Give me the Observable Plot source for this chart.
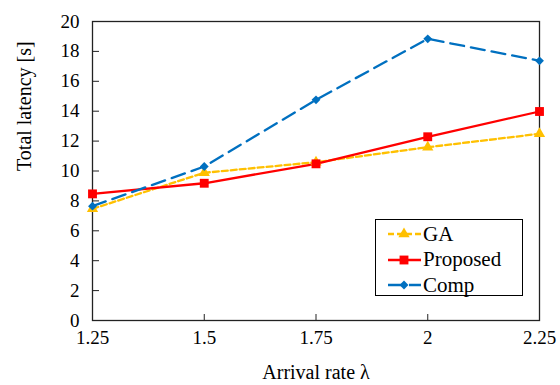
<!DOCTYPE html>
<html><head>
<script src="https://cdn.jsdelivr.net/npm/d3@7"></script>
<script src="https://cdn.jsdelivr.net/npm/@observablehq/plot@0.6"></script>
</head>
<body style="margin:0;padding:0;background:#fff">
<div id="wrap" style="position:relative;width:560px;height:385px;font-family:'Liberation Serif'"><div id="chart"></div><div id="legend" style="position:absolute;left:375px;top:219px;width:148px;height:77px;border:1px solid #000;background:#fff;box-sizing:border-box"></div></div>
<script>
const xs = [1.25, 1.5, 1.75, 2, 2.25];
const xTickLabels = ["1.25", "1.5", "1.75", "2", "2.25"];
const yTicks = [0, 2, 4, 6, 8, 10, 12, 14, 16, 18, 20];
const seriesNames = ["GA", "Proposed", "Comp"];
const gaValues = [7.47, 9.88, 10.59, 11.59, 12.49];
const proposedValues = [8.47, 9.18, 10.48, 12.29, 13.98];
const compValues = [7.65, 10.3, 14.76, 18.84, 17.37];
const xLabel = "Arrival rate \u03bb";
const yLabel = "Total latency [s]";

const colors = {GA: "#FFC000", Proposed: "#FF0000", Comp: "#0070C0"};
const dashes = {GA: "6,3", Proposed: null, Comp: "14,7"};
const symbols = {GA: "triangle", Proposed: "square", Comp: "diamond2"};
const radii = {GA: 4.2, Proposed: 5.0, Comp: 4.0};

const valuesBy = {GA: gaValues, Proposed: proposedValues, Comp: compValues};
const rows = seriesNames.map(s => xs.map((x, i) => ({series: s, x, y: valuesBy[s][i]})));

const marks = [];
for (const s of seriesNames) {
  const d = rows[seriesNames.indexOf(s)];
  marks.push(Plot.line(d, {x: "x", y: "y", stroke: colors[s], strokeWidth: 2.3, strokeDasharray: dashes[s]}));
}
for (const s of seriesNames) {
  const d = rows[seriesNames.indexOf(s)];
  marks.push(Plot.dot(d, {x: "x", y: "y", symbol: () => symbols[s], r: radii[s], fill: colors[s], stroke: "none"}));
}

const chart = Plot.plot({
  width: 560,
  height: 385,
  marginLeft: 92,
  marginRight: 21,
  marginTop: 21,
  marginBottom: 65,
  style: {fontFamily: "Liberation Serif", fontSize: "19px", color: "#000", background: "#fff"},
  x: {domain: [1.25, 2.25], ticks: xs},
  y: {domain: [0, 20], ticks: yTicks},
  symbol: {type: "identity"},
  marks: [
    Plot.frame({stroke: "#222", strokeWidth: 1.3}),
    Plot.axisX({ticks: xs, tickFormat: d => xTickLabels[xs.indexOf(d)], tickSize: -6, tickPadding: 16, stroke: "#222", label: null, fontSize: 19}),
    Plot.axisY({ticks: yTicks, tickSize: -7, tickPadding: 20, stroke: "#222", label: null, fontSize: 19}),
    Plot.text([xLabel], {frameAnchor: "bottom", dy: 58, text: d => d, fontSize: 20}),
    Plot.text([yLabel], {frameAnchor: "left", dx: -68, rotate: -90, text: d => d, fontSize: 20}),
    ...marks
  ]
});
document.getElementById("chart").appendChild(chart);

// Legend
const legend = document.getElementById("legend");
const sym = {triangle: d3.symbolTriangle, square: d3.symbolSquare, diamond2: d3.symbolDiamond2};
seriesNames.forEach((s, i) => {
  const row = document.createElement("div");
  row.style.cssText = "position:absolute;left:0;top:" + (1 + i * 25.5) + "px;height:26px;display:flex;align-items:center;font-size:21px;color:#000;font-family:'Liberation Serif'";
  const svg = d3.create("svg").attr("width", 33).attr("height", 14).style("margin-left", "12px").style("margin-right", "2px");
  svg.append("line").attr("x1", 0).attr("x2", 33).attr("y1", 7).attr("y2", 7)
    .attr("stroke", colors[s]).attr("stroke-width", 2.3)
    .attr("stroke-dasharray", dashes[s]);
  const area = Math.PI * radii[s] * radii[s];
  svg.append("path").attr("d", d3.symbol(sym[symbols[s]], area)()).attr("transform", "translate(16,7)").attr("fill", colors[s]);
  row.appendChild(svg.node());
  const t = document.createElement("span");
  t.textContent = s;
  row.appendChild(t);
  legend.appendChild(row);
});
</script>
</body>
</html>
